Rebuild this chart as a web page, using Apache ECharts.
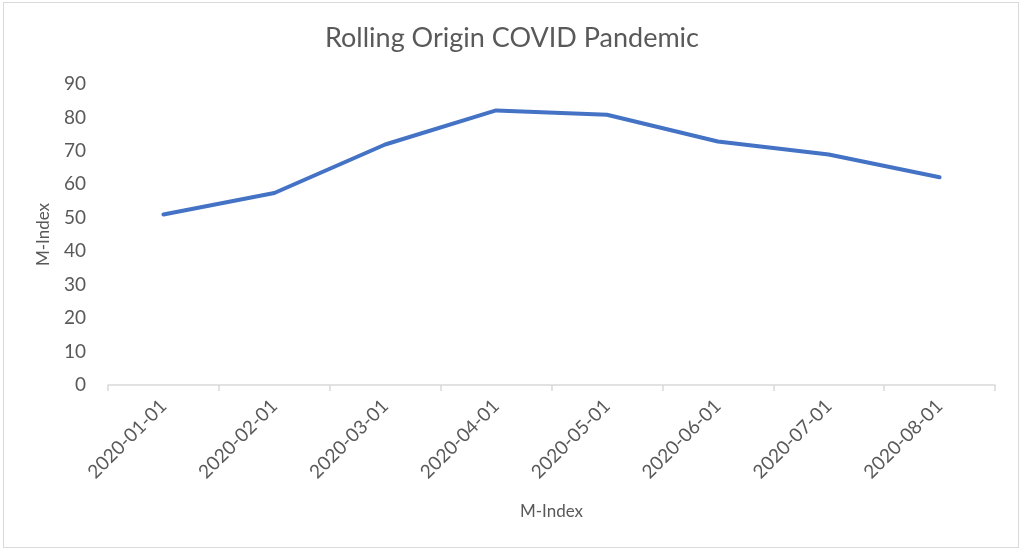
<!DOCTYPE html>
<html>
<head>
<meta charset="utf-8">
<script src="https://cdn.jsdelivr.net/npm/echarts@6/dist/echarts.min.js"></script>
<style>
html,body{margin:0;padding:0;background:#fff;}
#frame{position:absolute;left:3px;top:2px;width:1016px;height:546px;border:1px solid #d9d9d9;box-sizing:border-box;}
#chart{position:absolute;left:0;top:0;width:1024px;height:554px;}
</style>
</head>
<body>
<div id="frame"></div>
<div id="chart"></div>
<script>
const titleText = "Rolling Origin COVID Pandemic";
const categories = ["2020-01-01","2020-02-01","2020-03-01","2020-04-01","2020-05-01","2020-06-01","2020-07-01","2020-08-01"];
const mIndex = [51.0, 57.4, 71.9, 82.1, 80.8, 72.8, 68.9, 62.1];
const yAxisName = "M-Index";
const xAxisName = "M-Index";

const font = "Lato, 'Open Sans', sans-serif";
const chart = echarts.init(document.getElementById('chart'));
chart.setOption({
  animation: false,
  title: {
    text: titleText, left: 'center', top: 20,
    textStyle: {fontFamily: font, fontSize: 27, fontWeight: 'normal', color: '#595959'}
  },
  grid: {left: 108, right: 29, top: 84, bottom: 169, containLabel: false},
  xAxis: {
    type: 'category', data: categories, boundaryGap: true,
    name: xAxisName, nameLocation: 'middle', nameGap: 118,
    nameTextStyle: {fontFamily: font, fontSize: 17, color: '#595959'},
    axisLine: {lineStyle: {color: '#d9d9d9', width: 1.5}},
    axisTick: {show: true, length: 6, lineStyle: {color: '#d9d9d9', width: 1.5}},
    axisLabel: {rotate: 45, fontFamily: font, fontSize: 19, color: '#595959', margin: 18}
  },
  yAxis: {
    type: 'value', min: 0, max: 90, interval: 10,
    name: yAxisName, nameLocation: 'middle', nameGap: 56,
    nameTextStyle: {fontFamily: font, fontSize: 17, color: '#595959'},
    axisLine: {show: false}, axisTick: {show: false},
    splitLine: {show: false},
    axisLabel: {fontFamily: font, fontSize: 19, color: '#595959', margin: 22}
  },
  series: [{
    type: 'line', data: mIndex, symbol: 'none',
    lineStyle: {color: '#4472C4', width: 4, cap: 'round', join: 'round'}
  }]
});
</script>
</body>
</html>
